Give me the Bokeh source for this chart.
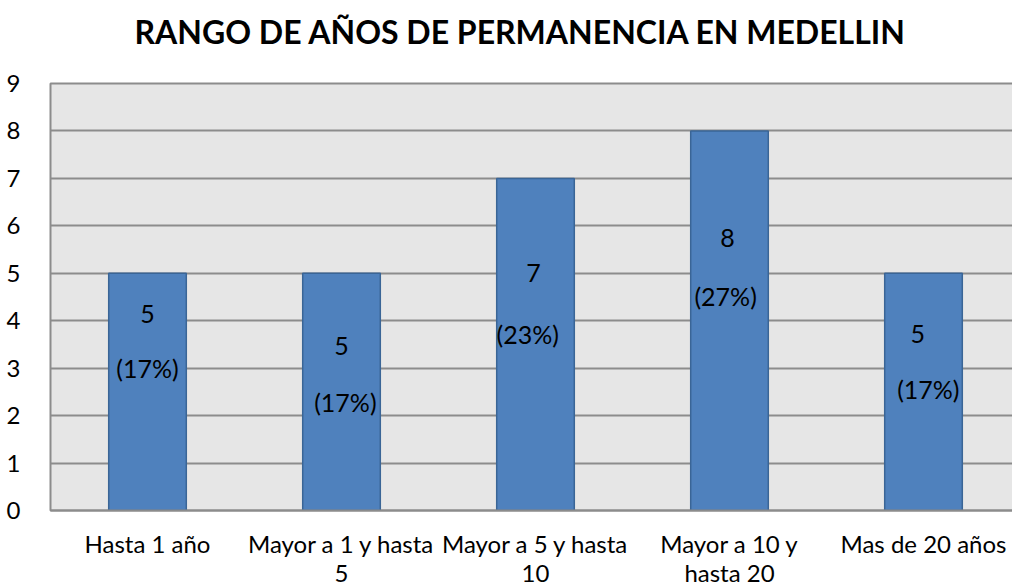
from bokeh.plotting import figure
from bokeh.models import ColumnDataSource, FixedTicker, Range1d
from bokeh.core.properties import value
from bokeh.embed import file_html
from bokeh.resources import INLINE

title = "RANGO DE AÑOS DE PERMANENCIA EN MEDELLIN"
categories = ["Hasta 1 año", "Mayor a 1 y hasta\n5", "Mayor a 5 y hasta\n10",
              "Mayor a 10 y\nhasta 20", "Mas de 20 años"]
counts = [5, 5, 7, 8, 5]
percents = ["(17%)", "(17%)", "(23%)", "(27%)", "(17%)"]
y_ticks = [0, 1, 2, 3, 4, 5, 6, 7, 8, 9]

# label placement (layout only)
count_label_y = [4.15, 3.46, 5.0, 5.75, 3.73]
pct_label_y = [3.01, 2.28, 3.73, 4.53, 2.57]
count_dx = [0.0, 0.0, -0.01, -0.01, -0.03]
pct_dx = [0.0, 0.02, -0.04, -0.02, 0.025]

FONT = "Lato"
xs = list(range(len(categories)))

src = ColumnDataSource(dict(x=xs, top=counts))
lab_src = ColumnDataSource(dict(
    cx=[x + d for x, d in zip(xs, count_dx)], cy=count_label_y,
    ctext=[str(c) for c in counts],
    px=[x + d for x, d in zip(xs, pct_dx)], py=pct_label_y, ptext=percents))

p = figure(frame_width=970, frame_height=427, output_backend="svg",
           toolbar_location=None,
           x_range=Range1d(-0.5, 4.5), y_range=Range1d(0, 9),
           min_border_left=50, min_border_right=0, min_border_top=83,
           min_border_bottom=10)

# trailing empty line lifts the title away from the frame
p.title.text = title + "\n"
p.title.align = "left"
p.title.offset = 84
p.title.vertical_align = "top"
p.title.standoff = -16
p.title.text_font = FONT
p.title.text_font_size = "32px"
p.title.text_font_style = "bold"
p.title.text_color = "black"

p.background_fill_color = "#E6E6E6"
p.border_fill_color = "white"
p.outline_line_color = "#8C8C8C"
p.outline_line_width = 2

p.vbar(x="x", top="top", width=0.40, source=src,
       fill_color="#4F81BD", line_color="#3A6596", line_width=1.5)

p.text(x="cx", y="cy", text="ctext", source=lab_src, text_align="center",
       text_baseline="middle", text_font=value(FONT), text_font_size="25px",
       text_color="black")
p.text(x="px", y="py", text="ptext", source=lab_src, text_align="center",
       text_baseline="middle", text_font=value(FONT), text_font_size="25px",
       text_color="black")

p.xgrid.grid_line_color = None
p.ygrid.grid_line_color = "#8C8C8C"
p.ygrid.grid_line_width = 2
p.ygrid.ticker = FixedTicker(ticks=y_ticks)

p.yaxis.ticker = FixedTicker(ticks=y_ticks)
p.yaxis.axis_line_color = None
p.yaxis.major_tick_line_color = None
p.yaxis.minor_tick_line_color = None
p.yaxis.major_label_standoff = 24
p.yaxis.major_label_text_font = FONT
p.yaxis.major_label_text_font_size = "24px"
p.yaxis.major_label_text_color = "black"

p.xaxis.ticker = FixedTicker(ticks=xs)
p.xaxis.major_label_overrides = {i: c for i, c in enumerate(categories)}
p.xaxis.axis_line_color = "#8C8C8C"
p.xaxis.axis_line_width = 2
p.xaxis.major_tick_line_color = None
p.xaxis.minor_tick_line_color = None
p.xaxis.major_label_standoff = 12
p.xaxis.major_label_text_font = FONT
p.xaxis.major_label_text_font_size = "24px"
p.xaxis.major_label_text_line_height = 1.0
p.xaxis.major_label_text_color = "black"

html = file_html(p, INLINE)
html = html.replace("</head>", "<style>html,body{overflow:hidden}</style></head>", 1)
open("out.html", "w").write(html)
